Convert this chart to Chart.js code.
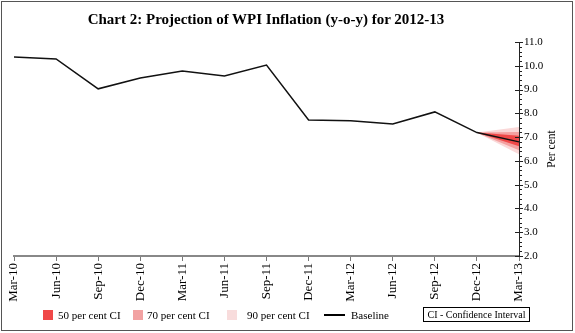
<!DOCTYPE html>
<html>
<head>
<meta charset="utf-8">
<script src="https://cdn.jsdelivr.net/npm/chart.js@4.4.1/dist/chart.umd.min.js"></script>
<style>
    body { margin: 0; width: 575px; height: 333px; background: #fff; position: relative; overflow: hidden; font-family: "Liberation Serif", "Times New Roman", serif; color: #000; }
    #frame { position: absolute; left: 1px; top: 1px; width: 570px; height: 328px; border: 1px solid #555; }
    #wrap { position: absolute; left: 0; top: 0; width: 575px; height: 333px; }
    #titulo { position: absolute; left: 0; top: 11px; width: 532px; text-align: center; font-weight: bold; font-size: 15px; }
    #perCent { position: absolute; left: 551px; top: 149px; font-size: 11.5px; white-space: nowrap; transform: translate(-50%, -50%) rotate(-90deg); }
    .leg { position: absolute; top: 308px; font-size: 11px; line-height: 14px; white-space: nowrap; }
    .caixa { position: absolute; top: 310px; width: 10px; height: 10px; }
    #ciBox { position: absolute; left: 423px; top: 307px; width: 105px; height: 13px; border: 1px solid #000; font-size: 10px; line-height: 13px; text-align: center; white-space: nowrap; }
</style>
</head>
<body>
<div id="wrap"><canvas id="wpiChart" width="575" height="333"></canvas></div>
<div id="frame"></div>
<div id="titulo">Chart 2: Projection of WPI Inflation (y-o-y) for 2012-13</div>
<div id="perCent">Per cent</div>

<div class="caixa" style="left:43px; background:#f04848;"></div>
<div class="leg" style="left:58px;">50 per cent CI</div>
<div class="caixa" style="left:133px; background:#f2a2a2;"></div>
<div class="leg" style="left:147px;">70 per cent CI</div>
<div class="caixa" style="left:227px; background:#f8dcdc;"></div>
<div class="leg" style="left:247px;">90 per cent CI</div>
<div style="position:absolute; left:324px; top:314px; width:21px; height:2px; background:#000;"></div>
<div class="leg" style="left:351px;">Baseline</div>
<div id="ciBox">CI - Confidence Interval</div>

<script>
const trimestres = ['Mar-10', 'Jun-10', 'Sep-10', 'Dec-10', 'Mar-11', 'Jun-11', 'Sep-11',
    'Dec-11', 'Mar-12', 'Jun-12', 'Sep-12', 'Dec-12', 'Mar-13'];

// inflação WPI (linha de base)
const baseline = [10.37, 10.29, 9.03, 9.49, 9.78, 9.57, 10.03, 7.72, 7.69, 7.55, 8.06, 7.19, 6.80];

// leque de projeção (só Dec-12 -> Mar-13)
const ci50Sup = [null, null, null, null, null, null, null, null, null, null, null, 7.19, 7.06];
const ci50Inf = [null, null, null, null, null, null, null, null, null, null, null, 7.19, 6.62];
const ci70Sup = [null, null, null, null, null, null, null, null, null, null, null, 7.19, 7.22];
const ci70Inf = [null, null, null, null, null, null, null, null, null, null, null, 7.19, 6.45];
const ci90Sup = [null, null, null, null, null, null, null, null, null, null, null, 7.19, 7.42];
const ci90Inf = [null, null, null, null, null, null, null, null, null, null, null, 7.19, 6.28];

const yMin = 2, yMax = 11;

const fonteSerif = '"Liberation Serif", "Times New Roman", serif';

// ticks menores do eixo y (a cada 0.2)
const ticksMenores = {
    id: 'ticksMenores',
    afterDraw(chart) {
        const ctx = chart.ctx;
        const y = chart.scales.y;
        const x0 = chart.chartArea.right;
        ctx.save();
        ctx.strokeStyle = '#222';
        ctx.lineWidth = 1;
        for (let i = 0; i <= (yMax - yMin) * 5; i++) {
            const v = yMin + i * 0.2;
            const py = Math.round(y.getPixelForValue(v)) + 0.5;
            ctx.beginPath();
            if (i % 5 === 0) {
                ctx.moveTo(x0 - 4, py);
                ctx.lineTo(x0 + 4, py);
            } else {
                ctx.moveTo(x0, py);
                ctx.lineTo(x0 + 3, py);
            }
            ctx.stroke();
        }
        ctx.restore();
    }
};

function faixa(dados, cor) {
    return {
        data: dados,
        borderWidth: 0,
        pointRadius: 0,
        backgroundColor: cor,
        fill: cor ? '+1' : false,
        tension: 0
    };
}

const ctx = document.getElementById('wpiChart').getContext('2d');
new Chart(ctx, {
    type: 'line',
    data: {
        labels: trimestres,
        datasets: [
            {
                label: 'Baseline',
                data: baseline,
                borderColor: '#111',
                borderWidth: 1.5,
                pointRadius: 0,
                fill: false,
                tension: 0
            },
            faixa(ci50Sup, '#f04848'),
            faixa(ci50Inf, null),
            faixa(ci70Sup, '#f4a0a0'),
            faixa(ci70Inf, null),
            faixa(ci90Sup, '#fad8d8'),
            faixa(ci90Inf, null)
        ]
    },
    options: {
        responsive: false,
        animation: false,
        layout: { padding: { left: 14, top: 42, right: 0, bottom: 0 } },
        plugins: {
            legend: { display: false },
            tooltip: { enabled: false }
        },
        scales: {
            x: {
                grid: { drawOnChartArea: false, tickLength: 5, color: '#777' },
                border: { color: '#888', width: 2 },
                ticks: {
                    autoSkip: false,
                    maxRotation: 90,
                    minRotation: 90,
                    padding: 2,
                    color: '#000',
                    font: { family: fonteSerif, size: 13 }
                },
                afterFit(scale) { scale.height = 77; }
            },
            y: {
                position: 'right',
                min: yMin,
                max: yMax,
                grid: { drawOnChartArea: false, drawTicks: false },
                border: { color: '#222', width: 1 },
                ticks: {
                    stepSize: 1,
                    padding: 5,
                    color: '#000',
                    font: { family: fonteSerif, size: 11 },
                    callback: (v) => Number(v).toFixed(1)
                },
                afterFit(scale) { scale.width = 56; }
            }
        }
    },
    plugins: [ticksMenores]
});
</script>
</body>
</html>
